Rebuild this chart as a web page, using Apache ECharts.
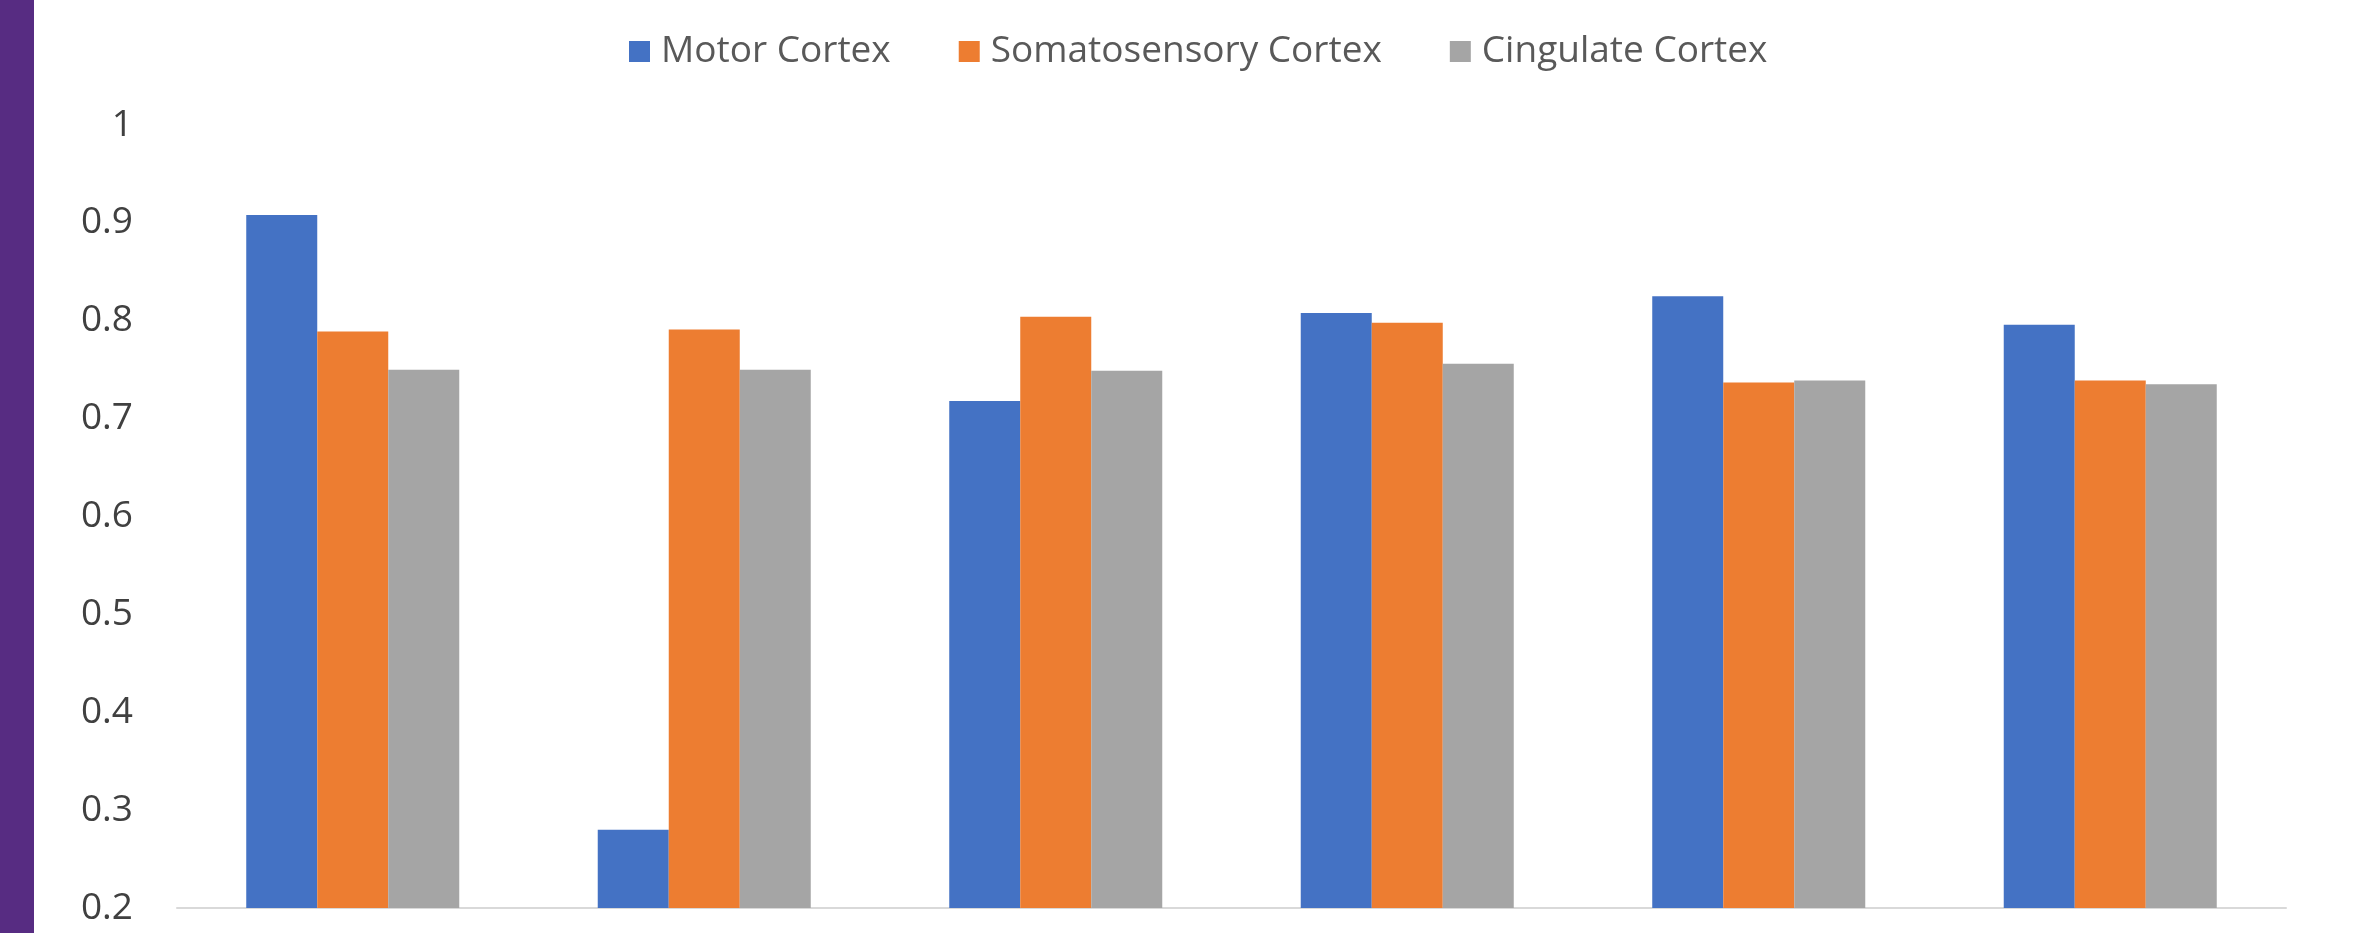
<!DOCTYPE html>
<html>
<head>
<meta charset="utf-8">
<title>Cortex comparison</title>
<script src="https://cdn.jsdelivr.net/npm/echarts@6/dist/echarts.min.js"></script>
<style>
  html, body { margin: 0; padding: 0; background: #ffffff; }
  #chart { width: 2354px; height: 933px; }
</style>
</head>
<body>
<div id="chart"></div>
<script>
// Per-session values for each cortical region
const categories = ['Session 1', 'Session 2', 'Session 3', 'Session 4', 'Session 5', 'Session 6'];
const motorCortex = [0.908, 0.280, 0.718, 0.808, 0.825, 0.796];
const somatosensoryCortex = [0.789, 0.791, 0.804, 0.798, 0.737, 0.739];
const cingulateCortex = [0.750, 0.750, 0.749, 0.756, 0.739, 0.735];

const seriesNames = ['Motor Cortex', 'Somatosensory Cortex', 'Cingulate Cortex'];
const seriesColors = ['#4472C4', '#ED7D31', '#A5A5A5'];
const seriesValues = [motorCortex, somatosensoryCortex, cingulateCortex];

const chart = echarts.init(document.getElementById('chart'), null, { renderer: 'canvas' });

chart.setOption({
  backgroundColor: '#ffffff',
  animation: false,
  color: seriesColors,
  // Purple side band along the left edge
  graphic: [{
    type: 'rect',
    left: 0,
    top: 0,
    shape: { width: 34, height: 933 },
    style: { fill: '#572C82' },
    silent: true
  }],
  legend: {
    left: 624,
    top: 28,
    itemWidth: 21,
    itemHeight: 21,
    itemGap: 68,
    icon: 'rect',
    textStyle: {
      fontFamily: 'Open Sans',
      fontSize: 37,
      color: '#595959',
      padding: [0, 0, 0, 6]
    },
    data: seriesNames
  },
  grid: {
    left: 177,
    right: 68,
    top: 125,
    bottom: 25,
    containLabel: false
  },
  xAxis: {
    type: 'category',
    data: categories,
    axisLine: { show: true, lineStyle: { color: '#D9D9D9', width: 2 } },
    axisTick: { show: false },
    axisLabel: { show: false },
    splitLine: { show: false }
  },
  yAxis: {
    type: 'value',
    min: 0.2,
    max: 1,
    interval: 0.1,
    axisLine: { show: false },
    axisTick: { show: false },
    splitLine: { show: false },
    axisLabel: {
      fontFamily: 'Open Sans',
      fontSize: 37,
      color: '#404040',
      margin: 44
    }
  },
  series: seriesNames.map((name, i) => ({
    name: name,
    type: 'bar',
    data: seriesValues[i],
    barGap: '0%',
    barCategoryGap: '39.4%',
    itemStyle: { color: seriesColors[i] }
  }))
});
</script>
</body>
</html>
